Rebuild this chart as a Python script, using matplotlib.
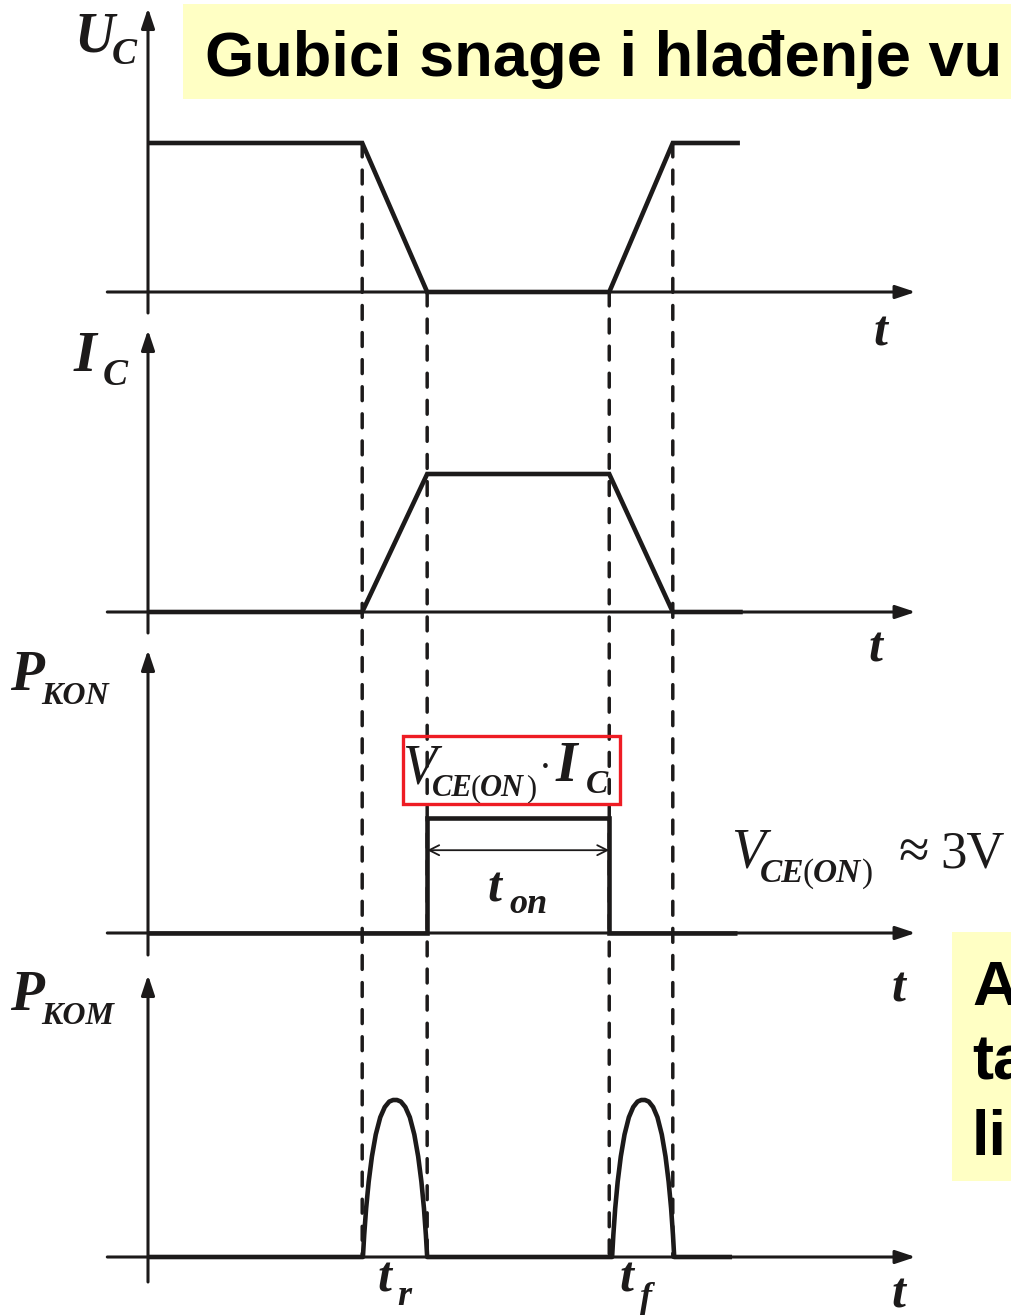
import numpy as np
import matplotlib.pyplot as plt
from matplotlib.patches import Rectangle, ConnectionPatch

plt.rcParams['lines.scale_dashes'] = False

W, H = 1011, 1316
INK = '#1c1a1a'
YELLOW = '#ffffc4'

# time axis: 0 is the vertical axis, units are arbitrary
t_on_start, t_on_end = 3.91, 6.46
switch_marks = [(3.0, 1.0), (3.91, 0.0), (6.46, 0.0), (7.35, 1.0)]

uc_t = [0.0, 3.0, 3.91, 6.46, 7.35, 8.29]
uc_v = [1.0, 1.0, 0.0, 0.0, 1.0, 1.0]

ic_t = [0.0, 3.0, 3.91, 6.46, 7.35, 8.33]
ic_v = [0.0, 0.0, 1.0, 1.0, 0.0, 0.0]

pkon_t = [0.0, 3.91, 3.91, 6.46, 6.46, 8.25]
pkon_v = [0.0, 0.0, 1.0, 1.0, 0.0, 0.0]

# switching-loss pulse: position inside the transition, height as fraction of peak
hump_x = [0.0, 0.02, 0.05, 0.09, 0.14, 0.20, 0.27, 0.34, 0.41, 0.47, 0.53,
          0.59, 0.66, 0.73, 0.80, 0.86, 0.91, 0.95, 0.98, 1.0]
hump_y = [0.0, 0.14, 0.31, 0.48, 0.64, 0.78, 0.89, 0.955, 0.99, 1.0, 1.0,
          0.99, 0.955, 0.89, 0.78, 0.64, 0.48, 0.31, 0.14, 0.0]
pkom_pulses = [(3.01, 3.91), (6.50, 7.37)]
pkom_end = 8.18

# per panel: baseline row, pixels per unit, arrow tip row, axis bottom row
panels = [(292, 149, 8, 313),
          (612, 138, 330, 633),
          (933, 115, 650, 955),
          (1257, 157, 975, 1282)]
x_axis = (-0.57, 10.75)
px_per_t = 71.4
origin_px = 148

fig = plt.figure(figsize=(W / 100, H / 100), dpi=100)

# yellow slide boxes
fig.add_artist(Rectangle((183 / W, 1 - 99 / H), (W - 183) / W, 95 / H,
                         transform=fig.transFigure, color=YELLOW, lw=0, zorder=0))
fig.add_artist(Rectangle((952 / W, 1 - 1181 / H), (W - 952) / W, 249 / H,
                         transform=fig.transFigure, color=YELLOW, lw=0, zorder=0))

axes = []
for base, unit, top, bot in panels:
    ax = fig.add_axes([0, 0, 1, 1])
    ax.set_xlim(-origin_px / px_per_t, (W - origin_px) / px_per_t)
    ax.set_ylim((base - H) / unit, base / unit)
    ax.axis('off')
    ax.patch.set_alpha(0)
    arrow = dict(arrowstyle='-|>,head_length=0.6,head_width=0.2', mutation_scale=20,
                 lw=2.2, color=INK, shrinkA=0, shrinkB=0)
    ax.annotate('', xy=(0, (base - top) / unit), xytext=(0, (base - bot) / unit),
                arrowprops=arrow)
    ax.annotate('', xy=(x_axis[1], 0), xytext=(x_axis[0], 0), arrowprops=arrow)
    axes.append(ax)

wave = dict(color=INK, lw=3.3, solid_joinstyle='miter', solid_capstyle='butt', zorder=5)
axes[0].plot(uc_t, uc_v, **wave)
axes[1].plot(ic_t, ic_v, **wave)
axes[2].plot(pkon_t, pkon_v, **wave)

# P_KOM: flat baseline with a pulse over each transition
px_ = np.array(hump_x)
seg_t = [[0.0]]
seg_v = [[0.0]]
for a, b in pkom_pulses:
    seg_t.append(a + px_ * (b - a))
    seg_v.append(np.array(hump_y))
seg_t.append([pkom_end])
seg_v.append([0.0])
axes[3].plot(np.concatenate(seg_t), np.concatenate(seg_v), **dict(wave, solid_joinstyle='round'))

# t_on dimension arrow
axes[2].annotate('', xy=(t_on_start, 0.72), xytext=(t_on_end, 0.72),
                 arrowprops=dict(arrowstyle='<->', lw=1.3, color=INK,
                                 mutation_scale=18, shrinkA=0, shrinkB=0))

# dashed guides through all panels
for t, lvl in switch_marks:
    con = ConnectionPatch(xyA=(t, lvl), coordsA=axes[0].transData,
                          xyB=(t, 0), coordsB=axes[3].transData,
                          color=INK, lw=2.5, linestyle=(0, (10, 9.5)), zorder=3)
    fig.add_artist(con)

bi = dict(family='Liberation Serif', style='italic', weight='bold')
it = dict(family='Liberation Serif', style='italic')
rm = dict(family='Liberation Serif')


def label(x, y, s, size, font, color=INK):
    fig.text(x / W, 1 - y / H, s, fontsize=size, va='baseline', ha='left',
             color=color, **font)


# axis names
label(74, 52, 'U', 40, bi)
label(112, 64, 'C', 27, bi)
label(74, 371, 'I', 42, bi)
label(103, 385, 'C', 27, bi)
label(10, 690, 'P', 40, bi)
label(41, 704, 'KON', 23, bi)
label(10, 1010, 'P', 40, bi)
label(41, 1024, 'KOM', 23, bi)

for x, y in [(873, 346), (868, 662), (891, 1002), (891, 1307)]:
    label(x, y, 't', 36, bi)

label(377, 1292, 't', 36, bi)
label(397, 1305, 'r', 26, bi)
label(619, 1292, 't', 36, bi)
label(640, 1307, 'f', 26, bi)

label(487, 901, 't', 36, bi)
label(509, 913, 'on', 26, bi)

# product label in the red frame
fig.add_artist(Rectangle((403 / W, 1 - 804 / H), 217 / W, 68 / H, transform=fig.transFigure,
                         fill=False, edgecolor='#ee1c24', lw=2.4, zorder=6))
label(402, 784, 'V', 40, it)
label(432, 796, 'CE', 22, bi)
label(471, 796, '(', 22, rm)
label(480, 796, 'ON', 22, bi)
label(526, 796, ')', 22, rm)
label(539, 779, '·', 28, rm)
label(556, 781, 'I', 40, bi)
label(586, 793, 'C', 24, bi)

label(731, 868, 'V', 40, it)
label(760, 882, 'CE', 24, bi)
label(803, 882, '(', 24, rm)
label(813, 882, 'ON', 24, bi)
label(862, 882, ')', 24, rm)
label(898, 868, '≈', 40, rm)
label(940, 867, '3V', 38, rm)

# slide text
fig.text(205 / W, 1 - 76 / H, 'Gubici snage i hlađenje vu', fontsize=45.5,
         family='Liberation Sans', weight='bold', va='baseline', color='black')
for y, s in [(1005, 'A'), (1080, 'ta'), (1155, 'li')]:
    fig.text(972 / W, 1 - y / H, s, fontsize=45.5, family='Liberation Sans',
             weight='bold', va='baseline', color='black')

fig.savefig('out.png', dpi=100)
